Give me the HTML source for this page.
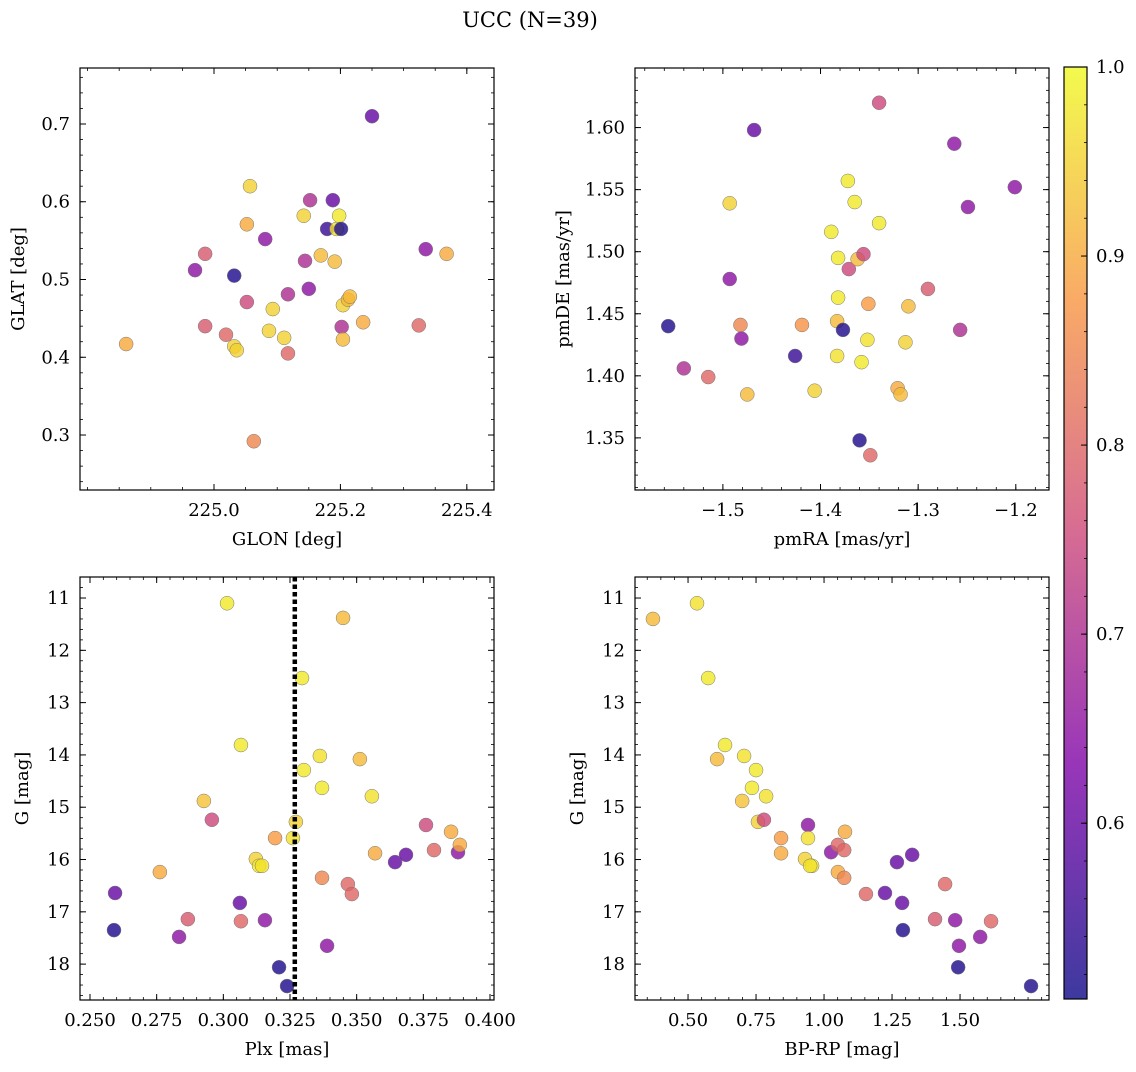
<!DOCTYPE html>
<html><head><meta charset="utf-8"><style>
body{margin:0;background:#fff;}
svg text{font-family:"DejaVu Serif","Liberation Serif",serif;fill:#000;}
</style></head><body>
<svg id="fig" width="1136" height="1067" viewBox="0 0 1136 1067" xmlns="http://www.w3.org/2000/svg">
<defs><linearGradient id="cg" x1="0" y1="1" x2="0" y2="0">
<stop offset="0" stop-color="#0d0887"/><stop offset="0.25" stop-color="#7e03a8"/><stop offset="0.5" stop-color="#cc4778"/><stop offset="0.75" stop-color="#f89540"/><stop offset="1" stop-color="#f0f921"/></linearGradient></defs>
<text x="530" y="27" font-size="21" text-anchor="middle">UCC (N=39)</text>
</svg>
<script>
// ---- data ----
const glon=[224.861,225.057,225.032,225.036,225.032,224.986,224.986,224.970,225.019,225.052,225.052,225.063,225.081,225.093,225.087,225.111,225.117,225.117,225.142,225.152,225.144,225.150,225.169,225.179,225.188,225.191,225.194,225.198,225.201,225.202,225.204,225.204,225.212,225.215,225.236,225.250,225.324,225.335,225.368];
const glat=[0.417,0.620,0.414,0.409,0.505,0.440,0.533,0.512,0.429,0.571,0.471,0.292,0.552,0.462,0.434,0.425,0.481,0.405,0.582,0.602,0.524,0.488,0.531,0.565,0.602,0.523,0.565,0.582,0.565,0.439,0.423,0.467,0.474,0.478,0.445,0.710,0.441,0.539,0.533];
const probTL=[0.9,0.95,0.95,0.95,0.52,0.78,0.78,0.65,0.8,0.9,0.75,0.85,0.65,0.95,0.95,0.95,0.7,0.8,0.95,0.7,0.7,0.65,0.92,0.55,0.6,0.92,0.97,0.98,0.52,0.7,0.92,0.95,0.92,0.92,0.9,0.6,0.8,0.65,0.9];
const pmra=[-1.556,-1.540,-1.493,-1.493,-1.515,-1.482,-1.475,-1.481,-1.468,-1.426,-1.419,-1.406,-1.389,-1.382,-1.382,-1.383,-1.383,-1.377,-1.372,-1.371,-1.365,-1.362,-1.358,-1.360,-1.356,-1.352,-1.351,-1.349,-1.340,-1.340,-1.321,-1.318,-1.313,-1.310,-1.290,-1.263,-1.257,-1.249,-1.201];
const pmde=[1.440,1.406,1.539,1.478,1.399,1.441,1.385,1.430,1.598,1.416,1.441,1.388,1.516,1.495,1.463,1.444,1.416,1.437,1.557,1.486,1.540,1.494,1.411,1.348,1.498,1.429,1.458,1.336,1.620,1.523,1.390,1.385,1.427,1.456,1.470,1.587,1.437,1.536,1.552];
const probTR=[0.52,0.7,0.95,0.65,0.8,0.85,0.92,0.65,0.6,0.55,0.87,0.95,0.98,0.98,0.98,0.92,0.97,0.52,0.98,0.75,0.98,0.92,0.98,0.52,0.75,0.97,0.88,0.8,0.75,0.98,0.9,0.92,0.95,0.92,0.78,0.65,0.7,0.65,0.65];
const plx=[0.2594,0.2590,0.2762,0.2834,0.2867,0.2927,0.2957,0.3014,0.3062,0.3066,0.3066,0.3122,0.3134,0.3145,0.3156,0.3194,0.3209,0.3239,0.3261,0.3272,0.3295,0.3302,0.3362,0.3370,0.3370,0.3389,0.3449,0.3467,0.3482,0.3512,0.3557,0.3569,0.3644,0.3685,0.3760,0.3790,0.3854,0.3880,0.3887];
const gPlx=[16.64,17.35,16.24,17.48,17.14,14.88,15.24,11.10,16.83,13.81,17.18,15.99,16.12,16.12,17.16,15.59,18.06,18.42,15.59,15.28,12.53,14.29,14.02,14.63,16.35,17.65,11.38,16.47,16.66,14.08,14.79,15.88,16.05,15.91,15.34,15.82,15.47,15.86,15.72];
const probBL=[0.6,0.52,0.9,0.65,0.78,0.93,0.75,0.98,0.6,0.98,0.8,0.95,0.98,0.97,0.65,0.88,0.52,0.52,0.97,0.95,0.98,0.98,0.97,0.98,0.85,0.65,0.92,0.8,0.8,0.92,0.97,0.9,0.6,0.6,0.75,0.8,0.9,0.65,0.9];
const bprp=[0.371,0.533,0.574,0.607,0.636,0.706,0.699,0.735,0.750,0.787,0.757,0.779,0.842,0.842,0.941,0.941,0.930,0.956,0.949,1.026,1.051,1.074,1.077,1.051,1.074,1.154,1.224,1.268,1.287,1.324,1.290,1.445,1.408,1.482,1.496,1.493,1.574,1.614,1.761];
const gCmd=[11.40,11.10,12.53,14.08,13.81,14.02,14.88,14.63,14.29,14.79,15.28,15.24,15.59,15.88,15.34,15.59,15.99,16.12,16.12,15.86,15.72,15.82,15.47,16.24,16.35,16.66,16.64,16.05,16.83,15.91,17.35,16.47,17.14,17.16,17.65,18.06,17.48,17.18,18.42];
const probBR=[0.92,0.97,0.98,0.92,0.98,0.97,0.93,0.98,0.98,0.97,0.95,0.75,0.88,0.9,0.65,0.97,0.95,0.98,0.97,0.65,0.8,0.8,0.9,0.9,0.85,0.8,0.6,0.6,0.6,0.6,0.52,0.8,0.78,0.65,0.65,0.52,0.65,0.8,0.52];
const plxMedian=[0.3268];
const cbTicks=[0.6,0.7,0.8,0.9,1.0];

const NS="http://www.w3.org/2000/svg";
const svg=document.getElementById('fig');
function mk(tag,at,parent){const e=document.createElementNS(NS,tag);for(const k in at)e.setAttribute(k,at[k]);(parent||svg).appendChild(e);return e;}
const stops=[[0,[13,8,135]],[0.25,[126,3,168]],[0.5,[204,71,120]],[0.75,[248,149,64]],[1,[240,249,33]]];
const vmin=0.507,vmax=1.0;
function cmap(v){let t=Math.max(0,Math.min(1,(v-vmin)/(vmax-vmin)));for(let i=0;i<4;i++){const a=stops[i],b=stops[i+1];if(t<=b[0]){const f=(t-a[0])/(b[0]-a[0]);return 'rgb('+a[1].map((c,j)=>Math.round(c+(b[1][j]-c)*f)).join(',')+')';}}return 'rgb(240,249,33)';}
function lin(d0,d1,r0,r1){return v=>r0+(v-d0)/(d1-d0)*(r1-r0);}
function fmt(v,dec){return (v<0?'\u2212':'')+Math.abs(v).toFixed(dec);}
const FS=18;
function panel(name,box,xd,yd,xt,xdec,xmin,yt,ydec,ymin,xs,ys,ps,xlab,ylab,ylabX){
  const [L,T,R,B]=box;
  const g=mk('g',{});
  
  
  const X=lin(xd[0],xd[1],L,R), Y=lin(yd[0],yd[1],B,T);
  const clip=mk('clipPath',{id:'c'+name},g);mk('rect',{x:L,y:T,width:R-L,height:B-T},clip);
  const pts=mk('g',{'clip-path':'url(#c'+name+')'},g);
  for(let i=0;i<xs.length;i++){
    const c=mk('circle',{cx:X(xs[i]),cy:Y(ys[i]),r:7,fill:cmap(ps[i]),'fill-opacity':0.8,stroke:'#777','stroke-width':0.5},pts);
    
    
  }
  const fr=mk('rect',{x:L,y:T,width:R-L,height:B-T,fill:'none',stroke:'#000','stroke-width':1.2},g);
  
  
  const lo=Math.min(xd[0],xd[1]),hi=Math.max(xd[0],xd[1]);
  const ylo=Math.min(yd[0],yd[1]),yhi=Math.max(yd[0],yd[1]);
  const step=xt[1]-xt[0], ms=step/xmin;
  for(let v=xt[0]-step*Math.ceil((xt[0]-lo)/step);v<=hi+1e-9;v+=ms){if(v<lo-1e-9)continue;const px=X(v);
    mk('line',{x1:px,y1:B,x2:px,y2:B-3,stroke:'#000','stroke-width':0.8},g);mk('line',{x1:px,y1:T,x2:px,y2:T+3,stroke:'#000','stroke-width':0.8},g);}
  xt.forEach(v=>{const px=X(v);mk('line',{x1:px,y1:B,x2:px,y2:B-6,stroke:'#000','stroke-width':1},g);mk('line',{x1:px,y1:T,x2:px,y2:T+6,stroke:'#000','stroke-width':1},g);
    const t=mk('text',{x:px,y:B+26,'font-size':FS,'text-anchor':'middle'},g);t.textContent=fmt(v,xdec);
    
    });
  const ystep=yt[1]-yt[0], yms=ystep/ymin;
  for(let v=yt[0]-ystep*Math.ceil((yt[0]-ylo)/ystep);v<=yhi+1e-9;v+=yms){if(v<ylo-1e-9)continue;const py=Y(v);
    mk('line',{x1:L,y1:py,x2:L+3,y2:py,stroke:'#000','stroke-width':0.8},g);mk('line',{x1:R,y1:py,x2:R-3,y2:py,stroke:'#000','stroke-width':0.8},g);}
  yt.forEach(v=>{const py=Y(v);mk('line',{x1:L,y1:py,x2:L+6,y2:py,stroke:'#000','stroke-width':1},g);mk('line',{x1:R,y1:py,x2:R-6,y2:py,stroke:'#000','stroke-width':1},g);
    const t=mk('text',{x:L-10,y:py+6,'font-size':FS,'text-anchor':'end'},g);t.textContent=fmt(v,ydec);
    
    });
  const xl=mk('text',{x:(L+R)/2,y:B+55,'font-size':FS,'text-anchor':'middle'},g);xl.textContent=xlab;
  
  
  const cy=(T+B)/2;
  const yl=mk('text',{x:ylabX,y:cy,'font-size':FS,'text-anchor':'middle',transform:'rotate(-90 '+ylabX+' '+cy+')'},g);yl.textContent=ylab;
  
  
  return {X,Y,g};
}
panel('glon-glat-panel',[80,68,494,490],[224.788,225.443],[0.2293,0.772],[225.0,225.2,225.4],1,4,[0.3,0.4,0.5,0.6,0.7],1,5,glon,glat,probTL,'GLON [deg]','GLAT [deg]',24);
panel('pm-panel',[635,68,1049,490],[-1.590,-1.166],[1.308,1.648],[-1.5,-1.4,-1.3,-1.2],1,5,[1.35,1.40,1.45,1.50,1.55,1.60],2,5,pmra,pmde,probTR,'pmRA [mas/yr]','pmDE [mas/yr]',569);
const bl=panel('plx-g-panel',[80,577,494,1000],[0.24625,0.4015],[18.686,10.598],[0.250,0.275,0.300,0.325,0.350,0.375,0.400],3,5,[11,12,13,14,15,16,17,18],0,5,plx,gPlx,probBL,'Plx [mas]','G [mag]',28);
const ml=mk('line',{x1:bl.X(plxMedian[0]),y1:577,x2:bl.X(plxMedian[0]),y2:1000,stroke:'#000','stroke-width':4.5,'stroke-dasharray':'4.5 3'},bl.g);


panel('cmd-panel',[635,577,1049,1000],[0.305,1.827],[18.686,10.598],[0.50,0.75,1.00,1.25,1.50],2,5,[11,12,13,14,15,16,17,18],0,5,bprp,gCmd,probBR,'BP-RP [mag]','G [mag]',583);
const cbg=mk('g',{});


const CT=67,CB=999,CL=1064,CR=1087;
mk('rect',{x:CL,y:CT,width:CR-CL,height:CB-CT,fill:'url(#cg)','fill-opacity':0.8,stroke:'#000','stroke-width':1.2},cbg);
const CY=lin(vmin,vmax,CB,CT);
for(let v=0.52;v<=1.0001;v+=0.02){const py=CY(v);mk('line',{x1:CR,y1:py,x2:CR-3,y2:py,stroke:'#000','stroke-width':0.8},cbg);}
cbTicks.forEach(v=>{const py=CY(v);mk('line',{x1:CR,y1:py,x2:CR-6,y2:py,stroke:'#000','stroke-width':1},cbg);
  const t=mk('text',{x:CR+9,y:py+6,'font-size':FS},cbg);t.textContent=v.toFixed(1);
  
  });
</script>
</body></html>
